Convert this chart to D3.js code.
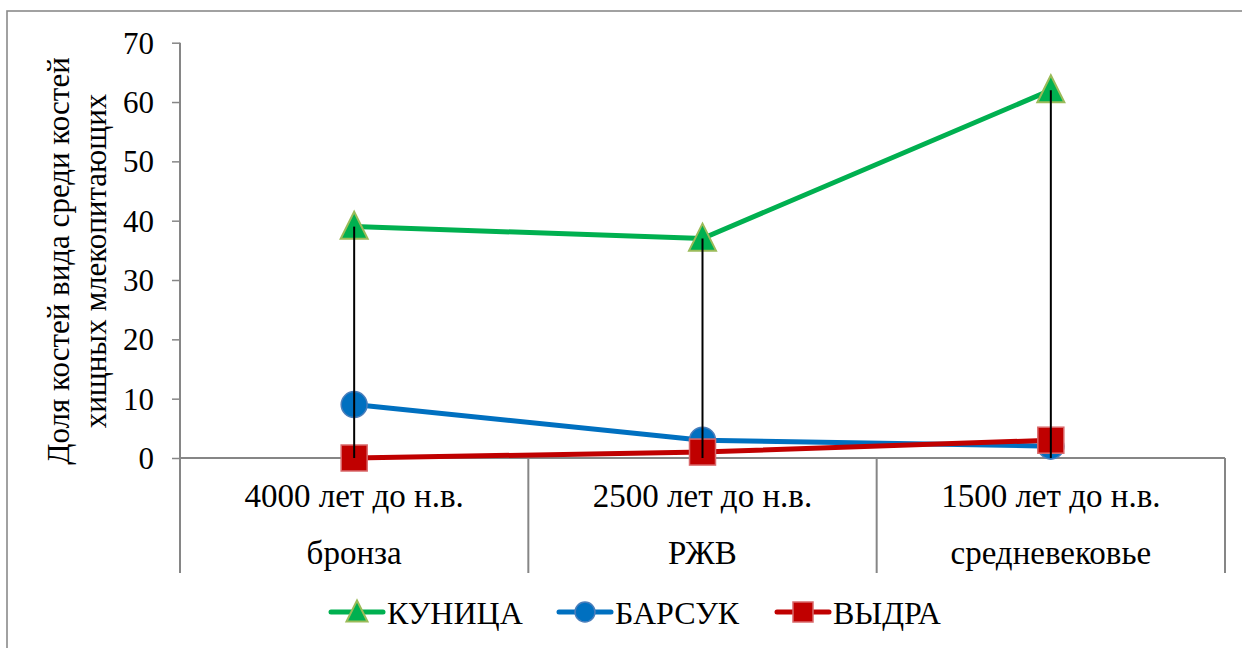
<!DOCTYPE html>
<html><head><meta charset="utf-8">
<script src="https://cdn.jsdelivr.net/npm/d3@7"></script>
</head><body style="margin:0">
<svg id="c" width="1242" height="648" style="display:block;font-family:'Liberation Serif'"></svg>
<script>
const categories = ["4000 лет до н.в.", "2500 лет до н.в.", "1500 лет до н.в."];
const periods = ["бронза", "РЖВ", "средневековье"];
const kunitsa = [39, 37, 62];
const barsuk = [9, 3, 2];
const vydra = [0, 1, 3];
const yTicks = [0, 10, 20, 30, 40, 50, 60, 70];
const seriesNames = ["КУНИЦА", "БАРСУК", "ВЫДРА"];
const yTitle = ["Доля костей вида среди костей", "хищных млекопитающих"];

const series = [
  {name: seriesNames[0], values: kunitsa, color: "#00B050", edge: "#9BBB59", shape: "tri"},
  {name: seriesNames[1], values: barsuk, color: "#0070C0", edge: "#4A7EBB", shape: "circ"},
  {name: seriesNames[2], values: vydra, color: "#C00000", edge: "#D9696B", shape: "sq"}
];

const svg = d3.select("#c");
const L = 180, R = 1225, T = 42.7, B = 458, axB = 573;
const FF = '"Liberation Serif"';

// outer frame
svg.append("rect").attr("x", 7).attr("y", 11).attr("width", 1260).attr("height", 700)
  .attr("fill", "none").attr("stroke", "#8a8a8a").attr("stroke-width", 1.6);

const x = d3.scaleBand().domain(categories).range([L, R]).padding(0);
const y = d3.scaleLinear().domain([0, 70]).range([B, T]);

// y axis
const yAxis = d3.axisLeft(y).tickValues(yTicks).tickSize(8).tickPadding(18).tickFormat(d3.format("d"));
const gy = svg.append("g").attr("transform", `translate(${L},0)`).call(yAxis);
gy.select(".domain").remove();
gy.attr("font-family", null).attr("font-size", null);
gy.selectAll(".tick line").attr("stroke", "#868686").attr("stroke-width", 1.5);
gy.selectAll(".tick text").style("font-family", FF).style("font-size", "31px").attr("fill", "#000").attr("dy", "0.34em");
svg.append("line").attr("x1", L).attr("x2", L).attr("y1", T).attr("y2", axB)
  .attr("stroke", "#868686").attr("stroke-width", 2);

// category axis
svg.append("line").attr("x1", L).attr("x2", R).attr("y1", B).attr("y2", B)
  .attr("stroke", "#868686").attr("stroke-width", 2);
const bounds = categories.map(c => x(c)).concat([R]);
svg.selectAll(".ctick").data(bounds.slice(1)).enter().append("line")
  .attr("x1", d => d).attr("x2", d => d).attr("y1", B).attr("y2", axB)
  .attr("stroke", "#868686").attr("stroke-width", 2);
const cx = c => x(c) + x.bandwidth() / 2;
svg.selectAll(".clab").data(categories).enter().append("text")
  .attr("x", d => cx(d)).attr("y", 507).attr("text-anchor", "middle")
  .style("font-family", FF).style("font-size", "33px").text(d => d);
svg.selectAll(".plab").data(periods).enter().append("text")
  .attr("x", (d, i) => cx(categories[i])).attr("y", 564).attr("text-anchor", "middle")
  .style("font-family", FF).style("font-size", "33px").text(d => d);

// y title
const yt = svg.append("text").attr("transform", "translate(0,261) rotate(-90)")
  .attr("text-anchor", "middle").style("font-family", FF).style("font-size", "31px");
yt.append("tspan").attr("x", 0).attr("y", 69).text(yTitle[0]);
yt.append("tspan").attr("x", 0).attr("y", 106).text(yTitle[1]);

function marker(g, shape, px, py, color, edge, s) {
  if (shape === "tri") {
    g.append("path").attr("d", `M${px},${py - s * 0.55}L${px + s / 2},${py + s * 0.45}L${px - s / 2},${py + s * 0.45}Z`)
      .attr("fill", color).attr("stroke", edge).attr("stroke-width", 2);
  } else if (shape === "circ") {
    g.append("circle").attr("cx", px).attr("cy", py).attr("r", s / 2)
      .attr("fill", color).attr("stroke", edge).attr("stroke-width", 1.5);
  } else {
    g.append("rect").attr("x", px - s / 2).attr("y", py - s / 2).attr("width", s).attr("height", s)
      .attr("fill", color).attr("stroke", edge).attr("stroke-width", 1.5);
  }
}

const line = d3.line().x((d, i) => cx(categories[i])).y(d => y(d));
series.forEach(s => {
  const g = svg.append("g");
  g.append("path").attr("d", line(s.values)).attr("fill", "none")
    .attr("stroke", s.color).attr("stroke-width", 5).attr("stroke-linejoin", "round").attr("stroke-linecap", "round");
  s.values.forEach((v, i) => marker(g, s.shape, cx(categories[i]), y(v), s.color, s.edge, s.shape === "tri" ? 27 : 26));
});

// drop lines
categories.forEach((c, i) => {
  const top = d3.max(series, s => s.values[i]);
  svg.append("line").attr("x1", cx(c)).attr("x2", cx(c)).attr("y1", y(top)).attr("y2", y(0))
    .attr("stroke", "#000").attr("stroke-width", 2);
});

// legend
const legX = [331, 559, 777];
series.forEach((s, i) => {
  const g = svg.append("g");
  const ly = 612;
  g.append("line").attr("x1", legX[i]).attr("x2", legX[i] + 52).attr("y1", ly).attr("y2", ly)
    .attr("stroke", s.color).attr("stroke-width", 5).attr("stroke-linecap", "round");
  marker(g, s.shape, legX[i] + 26, ly, s.color, s.edge, s.shape === "tri" ? 21 : 20);
  g.append("text").attr("x", legX[i] + 56).attr("y", 624)
    .style("font-family", FF).style("font-size", "32px").text(s.name);
});

svg.selectAll("text").each(function () { this.getComputedTextLength(); });
</script>
</body></html>
